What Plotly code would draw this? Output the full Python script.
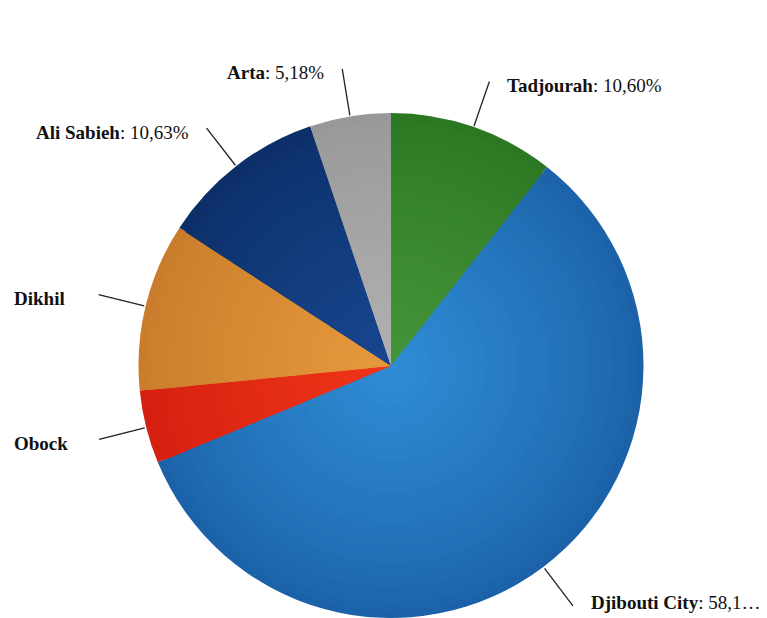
import math
import plotly.graph_objects as go

# Population share by region (%)
regions = ["Tadjourah", "Djibouti City", "Obock", "Dikhil", "Ali Sabieh", "Arta"]
shares = [10.60, 58.14, 4.68, 10.77, 10.63, 5.18]
# Rendered label text for each region (value part, may be trimmed)
label_values = ["10,60%", "58,1…", None, None, "10,63%", "5,18%"]

# Slice colours: darker at the rim, lighter toward the centre
edge_colors = ["#2c7722", "#1c62a8", "#d51f0f", "#c97c2b", "#0c2f68", "#989898"]
center_colors = ["#44943a", "#2e8cd4", "#ee3519", "#e6993c", "#17468f", "#b0b0b0"]

W, H = 767, 618
CX, CY, R = 391, 366, 253  # pie centre / radius in pixels


def mix(c1, c2, t):
    a = [int(c1[i:i + 2], 16) for i in (1, 3, 5)]
    b = [int(c2[i:i + 2], 16) for i in (1, 3, 5)]
    return "#%02x%02x%02x" % tuple(round(a[k] + (b[k] - a[k]) * t) for k in range(3))


fig = go.Figure()

# Concentric stacked pies give a soft radial shading on each slice
layers = 32
for i in range(layers):
    f = 1 - i / layers
    r = R * f
    t = (i / (layers - 1)) ** 0.8
    cols = [mix(e, c, t) for e, c in zip(edge_colors, center_colors)]
    fig.add_trace(go.Pie(
        labels=regions,
        values=shares,
        sort=False,
        direction="clockwise",
        rotation=0,
        textinfo="none",
        marker=dict(colors=cols, line=dict(width=0)),
        domain=dict(x=[(CX - r) / W, (CX + r) / W],
                    y=[max(0.0, 1 - (CY + r) / H), 1 - (CY - r) / H]),
        showlegend=False,
        hoverinfo="label+percent" if i == 0 else "skip",
    ))

# Connector lines and outside labels, placed at each slice's mid angle
total = sum(shares)
cum = 0.0
shapes, annotations = [], []
for name, val, lv in zip(regions, shares, label_values):
    mid = (cum + val / 2) / total * 2 * math.pi
    cum += val
    sx, sy = math.sin(mid), -math.cos(mid)
    x0, y0 = CX + (R + 1) * sx, CY + (R + 1) * sy
    x1, y1 = CX + (R + 48) * sx, CY + (R + 48) * sy
    shapes.append(dict(type="line", xref="paper", yref="paper",
                       x0=x0 / W, y0=1 - y0 / H, x1=x1 / W, y1=1 - y1 / H,
                       line=dict(color="#222222", width=1.3)))
    text = f"<b>{name}</b>" + (f": {lv}" if lv else "")
    if sx > 0:
        tx, anchor = x1 + 16, "left"
    else:
        tx, anchor = x1 - 16, "right"
        if lv is None:
            tx, anchor = 12, "left"
    ty = min(y1 + 4, H - 16)  # keep labels inside the bottom edge
    annotations.append(dict(x=tx / W, y=1 - ty / H, xref="paper", yref="paper",
                            text=text, showarrow=False, xanchor=anchor, yanchor="middle",
                            font=dict(family="Liberation Serif", size=19, color="#111111")))

fig.update_layout(
    width=W, height=H,
    margin=dict(l=0, r=0, t=0, b=0),
    paper_bgcolor="white",
    plot_bgcolor="white",
    shapes=shapes,
    annotations=annotations,
)

fig.write_html("out.html")
